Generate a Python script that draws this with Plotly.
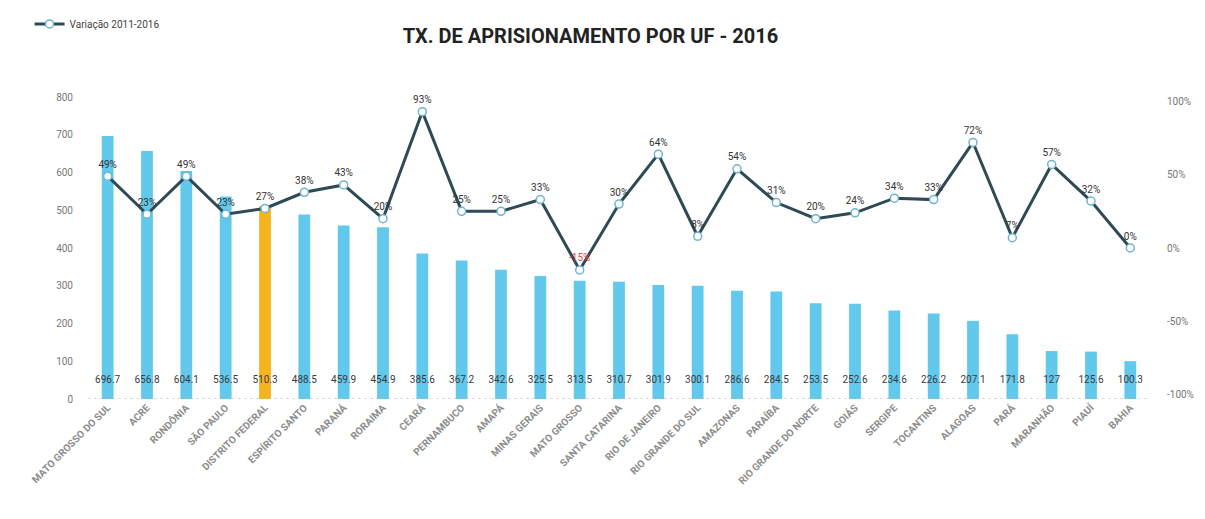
import plotly.graph_objects as go

# Taxa de aprisionamento por UF (2016) e variação 2011-2016
ufs = [
    "MATO GROSSO DO SUL", "ACRE", "RONDÔNIA", "SÃO PAULO", "DISTRITO FEDERAL",
    "ESPÍRITO SANTO", "PARANÁ", "RORAIMA", "CEARÁ", "PERNAMBUCO", "AMAPÁ",
    "MINAS GERAIS", "MATO GROSSO", "SANTA CATARINA", "RIO DE JANEIRO",
    "RIO GRANDE DO SUL", "AMAZONAS", "PARAÍBA", "RIO GRANDE DO NORTE", "GOIÁS",
    "SERGIPE", "TOCANTINS", "ALAGOAS", "PARÁ", "MARANHÃO", "PIAUÍ", "BAHIA",
]
taxa_2016 = [
    696.7, 656.8, 604.1, 536.5, 510.3, 488.5, 459.9, 454.9, 385.6, 367.2,
    342.6, 325.5, 313.5, 310.7, 301.9, 300.1, 286.6, 284.5, 253.5, 252.6,
    234.6, 226.2, 207.1, 171.8, 127, 125.6, 100.3,
]
variacao = [
    49, 23, 49, 23, 27, 38, 43, 20, 93, 25, 25, 33, -15, 30, 64, 8, 54, 31,
    20, 24, 34, 33, 72, 7, 57, 32, 0,
]
destaque = "DISTRITO FEDERAL"
pct_ticks = [-100, -50, 0, 50, 100]

bar_colors = ["#f5b41e" if u == destaque else "#62c9ec" for u in ufs]
pct_colors = ["#e0473f" if v < 0 else "#333333" for v in variacao]
font_family = "Liberation Sans Narrow, Roboto, Arial, sans-serif"

fig = go.Figure()

fig.add_trace(go.Bar(
    x=ufs, y=taxa_2016, marker=dict(color=bar_colors, line=dict(width=0)),
    showlegend=False, hoverinfo="x+y",
))

# value labels near the base of each bar
fig.add_trace(go.Scatter(
    x=ufs, y=[48] * len(ufs), mode="text",
    text=[f"{v:g}" for v in taxa_2016],
    textfont=dict(family=font_family, size=10, color="#3a3a3a"),
    showlegend=False, hoverinfo="skip",
))

fig.add_trace(go.Scatter(
    x=ufs, y=variacao, yaxis="y2", mode="lines+markers+text",
    name="Variação 2011-2016",
    line=dict(color="#2e4a55", width=3),
    marker=dict(size=8, color="white", line=dict(color="#6fb4d2", width=1.5)),
    text=[f"{v}%" for v in variacao], textposition="top center",
    textfont=dict(family=font_family, size=10, color=pct_colors),
    cliponaxis=False,
))

fig.add_shape(type="line", xref="paper", yref="y", x0=0, x1=1, y0=0, y1=0,
              line=dict(color="#bbbbbb", width=1, dash="dot"))

fig.update_layout(
    width=1205, height=519,
    margin=dict(l=88, r=55, t=97, b=120, autoexpand=False),
    paper_bgcolor="white", plot_bgcolor="white",
    bargap=0.7,
    font=dict(family=font_family, color="#555555"),
    title=dict(
        text="<b>TX. DE APRISIONAMENTO POR UF - 2016</b>",
        x=0.49, xanchor="center", y=0.93, yanchor="middle",
        font=dict(family=font_family, size=20, color="#222222"),
    ),
    xaxis=dict(
        range=[-0.5, len(ufs) - 0.5],
        tickangle=-45, showgrid=False, showline=False, ticks="",
        automargin=False,
        tickfont=dict(family=font_family, size=10, color="#8c8c8c",
                      weight="bold"),
    ),
    yaxis=dict(
        range=[0, 800], tickvals=list(range(0, 801, 100)), showgrid=False,
        zeroline=False, showline=False, ticks="", automargin=False,
        ticklabelstandoff=14,
        tickfont=dict(family=font_family, size=10, color="#777777"),
    ),
    yaxis2=dict(
        overlaying="y", side="right", range=[-103, 103],
        tickvals=pct_ticks, ticktext=[f"{t}%" for t in pct_ticks],
        showgrid=False, zeroline=False, showline=False, ticks="",
        automargin=False, ticklabelstandoff=16,
        tickfont=dict(family=font_family, size=10, color="#777777"),
    ),
    legend=dict(
        x=-0.055, y=1.29, xanchor="left", yanchor="top",
        orientation="h", bgcolor="rgba(0,0,0,0)",
        font=dict(family=font_family, size=10, color="#444444"),
    ),
)

fig.write_html("out.html")
